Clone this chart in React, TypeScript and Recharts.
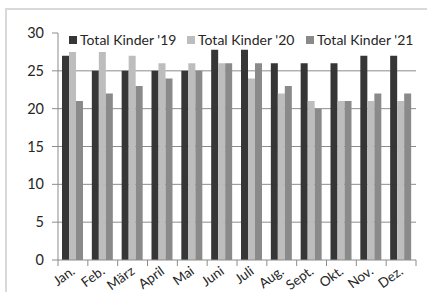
import React from 'react';
import { BarChart, Bar, XAxis, YAxis, CartesianGrid, Legend } from 'recharts';

const months = ['Jan.', 'Feb.', 'März', 'April', 'Mai', 'Juni', 'Juli', 'Aug.', 'Sept.', 'Okt.', 'Nov.', 'Dez.'];
const kinder19 = [27, 25, 25, 25, 25, 27.8, 27.8, 26, 26, 26, 27, 27];
const kinder20 = [27.5, 27.5, 27, 26, 26, 26, 24, 22, 21, 21, 21, 21];
const kinder21 = [21, 22, 23, 24, 25, 26, 26, 23, 20, 21, 22, 22];
const yTicks = [0, 5, 10, 15, 20, 25, 30];
const gridValues = [5, 10, 15, 20, 25];

const seriesList = [
  { key: 'k19', name: "Total Kinder '19", color: '#363636' },
  { key: 'k20', name: "Total Kinder '20", color: '#bdbdbd' },
  { key: 'k21', name: "Total Kinder '21", color: '#8a8a8a' },
];
// legend slot widths (px)
const legendSlots = [118, 119, 110];

const data = months.map((m, i) => ({
  month: m,
  k19: kinder19[i],
  k20: kinder20[i],
  k21: kinder21[i],
}));

const FONT = 'Lato, "Open Sans", sans-serif';
const CHART_W = 427;
const CHART_H = 292;
const MARGIN = { top: 33, right: 11, bottom: 0, left: 28 };
const Y_W = 30;
const PLOT_W = CHART_W - MARGIN.left - MARGIN.right - Y_W;
const BAND = PLOT_W / months.length;

const MonthTick = (props: any) => {
  const { x, y, payload, index } = props;
  const left = x - BAND / 2;
  const tx = x + 3;
  const ty = y + 5;
  return (
    <g>
      <line x1={left} y1={y - 8} x2={left} y2={y - 2} stroke="#8c8c8c" />
      {index === months.length - 1 && (
        <line x1={x + BAND / 2} y1={y - 8} x2={x + BAND / 2} y2={y - 2} stroke="#8c8c8c" />
      )}
      <text
        x={tx}
        y={ty}
        textAnchor="end"
        fill="#262626"
        fontSize={13.5}
        fontFamily={FONT}
        transform={`rotate(-36, ${tx}, ${ty})`}
      >
        {payload.value}
      </text>
    </g>
  );
};

const LegendContent = () => (
  <div style={{ display: 'flex', whiteSpace: 'nowrap', fontFamily: FONT, fontSize: 14, color: '#262626' }}>
    {seriesList.map((s, i) => (
      <div key={s.key} style={{ display: 'flex', alignItems: 'center', width: legendSlots[i] }}>
        <span style={{ display: 'inline-block', width: 8, height: 8, background: s.color, marginRight: 3 }} />
        <span>{s.name}</span>
      </div>
    ))}
  </div>
);

export default function App() {
  return (
    <div style={{ position: 'absolute', left: 0, top: 0, width: CHART_W, height: CHART_H, background: '#fff', overflow: 'hidden' }}>
      <div
        style={{
          position: 'absolute',
          left: 5,
          top: 8,
          width: 460,
          height: 320,
          border: '2px solid #d9d9d9',
        }}
      />
      <div style={{ position: 'absolute', left: 0, top: 0 }}>
        <BarChart
          width={CHART_W}
          height={CHART_H}
          data={data}
          margin={MARGIN}
          barGap={0}
          barSize={7}
        >
          <CartesianGrid horizontal vertical={false} horizontalValues={gridValues} stroke="#8c8c8c" strokeDasharray="" />
          <XAxis
            dataKey="month"
            height={32}
            axisLine={{ stroke: '#8c8c8c' }}
            tickLine={false}
            interval={0}
            tick={<MonthTick />}
          />
          <YAxis
            width={Y_W}
            domain={[0, 30]}
            ticks={yTicks}
            interval={0}
            axisLine={{ stroke: '#8c8c8c' }}
            tickLine={{ stroke: '#8c8c8c' }}
            tickSize={6}
            tickMargin={8}
            tick={{ fill: '#262626', fontSize: 14.5, fontFamily: FONT }}
          />
          <Legend
            layout="horizontal"
            verticalAlign="middle"
            wrapperStyle={{ top: 31, left: 69, width: 350 }}
            content={<LegendContent />}
          />
          {seriesList.map((s) => (
            <Bar key={s.key} dataKey={s.key} name={s.name} fill={s.color} isAnimationActive={false} />
          ))}
        </BarChart>
      </div>
    </div>
  );
}
